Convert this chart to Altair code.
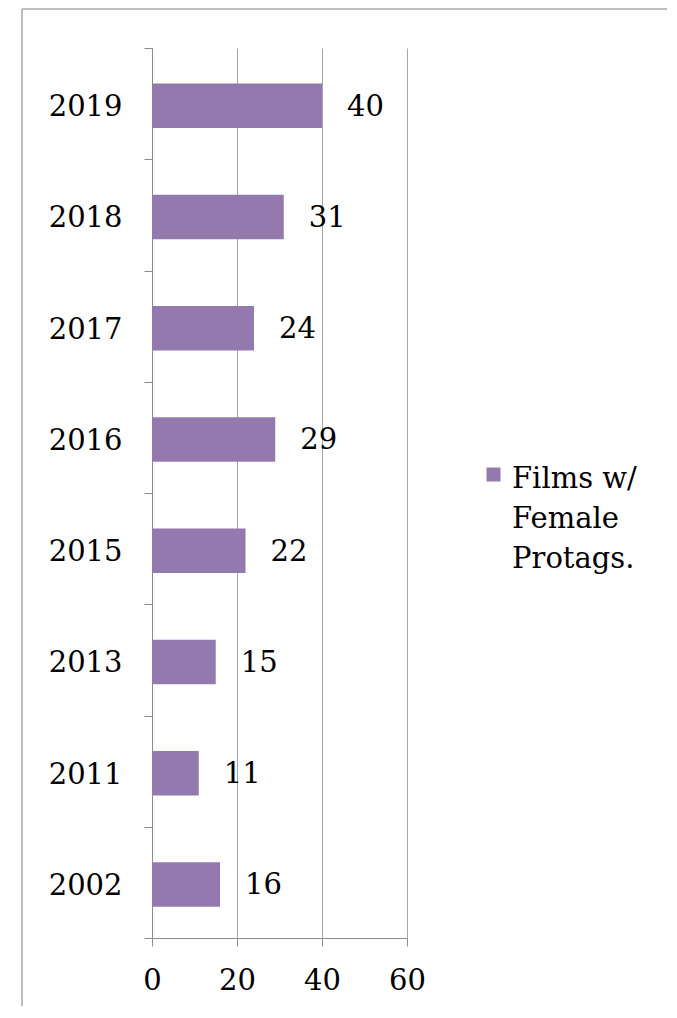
import altair as alt
import pandas as pd

years = ["2019", "2018", "2017", "2016", "2015", "2013", "2011", "2002"]
values = [40, 31, 24, 29, 22, 15, 11, 16]
series_name = "Films w/\nFemale\nProtags."

df = pd.DataFrame({"year": years, "value": values, "series": [series_name] * len(years)})

FONT = "DejaVu Serif"
FS = 29
PURPLE = "#9479AE"
TXT = "#000000"

base = alt.Chart(df)

bars = base.mark_bar(color=PURPLE, height={"band": 0.4}, yOffset=2).encode(
    y=alt.Y("year:N", sort=years, title=None,
            scale=alt.Scale(paddingInner=0, paddingOuter=0),
            axis=alt.Axis(tickBand="extent", tickSize=8, labelPadding=22, labelOffset=3,
                          domainColor="#8c8c8c", tickColor="#8c8c8c",
                          labelFont=FONT, labelFontSize=FS, labelColor=TXT,
                          grid=False)),
    x=alt.X("value:Q", title=None,
            scale=alt.Scale(domain=[0, 60]),
            axis=alt.Axis(values=[0, 20, 40, 60], tickSize=8, labelPadding=20,
                          domainColor="#8c8c8c", tickColor="#8c8c8c",
                          gridColor="#a6a6a6", labelFont=FONT, labelFontSize=FS,
                          labelColor=TXT, labelFlush=False)),
    color=alt.Color("series:N", scale=alt.Scale(range=[PURPLE]),
                    legend=alt.Legend(title=None, orient="none", legendX=327, legendY=402,
                                      labelExpr="split(datum.label, '\\n')",
                                      labelFont=FONT, labelFontSize=FS, labelColor=TXT,
                                      labelBaseline="top", labelLimit=300,
                                      symbolType="M-1,0.43H1V2.43H-1Z", symbolSize=196,
                                      symbolStrokeWidth=0, labelOffset=4)),
)

labels = base.mark_text(align="left", baseline="middle", dx=25, dy=3,
                        font=FONT, fontSize=FS, color=TXT).encode(
    y=alt.Y("year:N", sort=years),
    x=alt.X("value:Q"),
    text=alt.Text("value:Q"),
)

frame = pd.DataFrame({"k": [0]})
top_border = alt.Chart(frame).mark_rule(color="#a8a8a8", strokeWidth=1.5).encode(
    x=alt.value(-130), x2=alt.value(600), y=alt.value(-39))
left_border = alt.Chart(frame).mark_rule(color="#a8a8a8", strokeWidth=1.5).encode(
    x=alt.value(-130), y=alt.value(-39), y2=alt.value(1000))

chart = alt.layer(bars, labels, top_border, left_border).properties(
    width=255, height=890,
    padding={"left": 144, "top": 40, "right": 260, "bottom": 68},
    autosize=alt.AutoSizeParams(type="none"),
).configure(
    style={"guide-label": {"lineHeight": 40}},
    view=alt.ViewConfig(strokeWidth=0),
)

chart.save("out.html", embed_options={"renderer": "svg", "actions": False})
